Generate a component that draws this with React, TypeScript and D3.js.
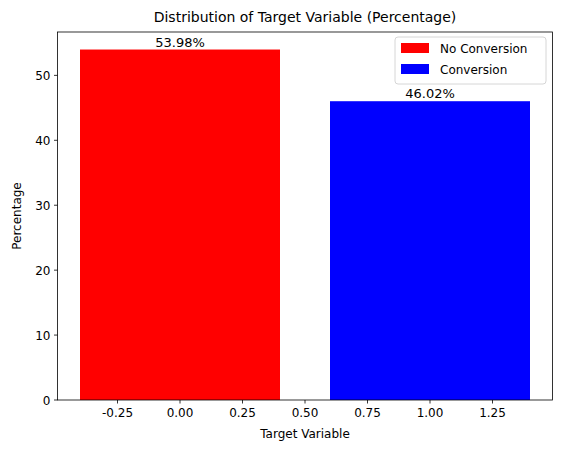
import React from "react";
import * as d3 from "d3";

const categories = ["No Conversion", "Conversion"];
const positions = [0, 1];
const values = [53.98, 46.02];
const colors = ["red", "blue"];
const xTicks = [-0.25, 0, 0.25, 0.5, 0.75, 1, 1.25];
const yTicks = [0, 10, 20, 30, 40, 50];

const W = 563, H = 453;
const m = { left: 57.5, right: 552.5, top: 32, bottom: 400 };
const font = "DejaVu Sans, sans-serif";

export default function App() {
  const x = d3.scaleLinear().domain([-0.49, 1.49]).range([m.left, m.right]);
  const y = d3.scaleLinear().domain([0, 56.68]).range([m.bottom, m.top]);
  const bw = x(0.8) - x(0);
  return (
    <svg width={W} height={H} style={{ position: "absolute", left: 0, top: 0 }} fontFamily={font}>
      <rect width={W} height={H} fill="white" />
      {values.map((v, i) => (
        <g key={i}>
          <rect x={x(positions[i] - 0.4)} y={y(v)} width={bw} height={m.bottom - y(v)} fill={colors[i]} />
          <text x={x(positions[i])} y={y(v) - 3} textAnchor="middle" fontSize={13}>{v.toFixed(2)}%</text>
        </g>
      ))}
      <rect x={m.left} y={m.top} width={m.right - m.left} height={m.bottom - m.top} fill="none" stroke="black" strokeWidth={0.8} />
      {xTicks.map((t) => (
        <g key={t}>
          <line x1={x(t)} x2={x(t)} y1={m.bottom} y2={m.bottom + 3.5} stroke="black" strokeWidth={0.8} />
          <text x={x(t)} y={m.bottom + 17} textAnchor="middle" fontSize={12}>{t.toFixed(2)}</text>
        </g>
      ))}
      {yTicks.map((t) => (
        <g key={t}>
          <line x1={m.left - 3.5} x2={m.left} y1={y(t)} y2={y(t)} stroke="black" strokeWidth={0.8} />
          <text x={m.left - 7} y={y(t) + 4.5} textAnchor="end" fontSize={12}>{t}</text>
        </g>
      ))}
      <text x={(m.left + m.right) / 2} y={438} textAnchor="middle" fontSize={12}>Target Variable</text>
      <text transform={`translate(21,${(m.top + m.bottom) / 2}) rotate(-90)`} textAnchor="middle" fontSize={12}>Percentage</text>
      <text x={(m.left + m.right) / 2} y={22} textAnchor="middle" fontSize={14}>Distribution of Target Variable (Percentage)</text>
      <g>
        <rect x={395} y={37} width={151} height={47} rx={3} fill="white" stroke="#ccc" strokeWidth={0.8} />
        {categories.map((c, i) => (
          <g key={c}>
            <rect x={401} y={43 + i * 21} width={28} height={10} fill={colors[i]} />
            <text x={440} y={53 + i * 21} fontSize={12}>{c}</text>
          </g>
        ))}
      </g>
    </svg>
  );
}
